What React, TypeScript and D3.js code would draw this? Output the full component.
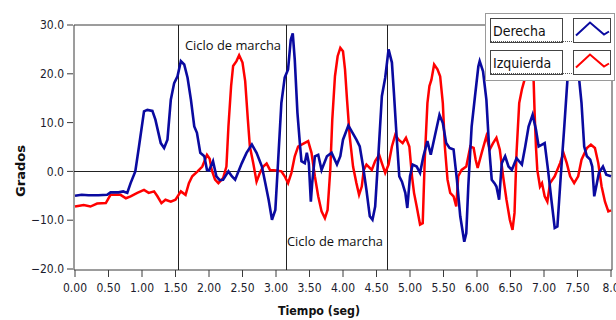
import React from "react";
import * as d3 from "d3";

// angle traces, [time (s), degrees]
const derecha: [number, number][] = [
  [0, -5.0], [0.1, -4.8], [0.2, -4.9], [0.35, -4.9], [0.48, -4.8], [0.53, -4.3], [0.65, -4.3], [0.72, -4.1],
  [0.78, -4.4], [0.83, -2.4], [0.9, 0], [0.955, 5.1], [1.03, 12.3], [1.08, 12.6], [1.155, 12.4], [1.2, 10.6],
  [1.28, 5.8], [1.33, 4.8], [1.38, 6.5], [1.43, 14.7], [1.48, 18.1], [1.53, 19.5], [1.58, 22.6], [1.63, 21.9],
  [1.68, 19.2], [1.73, 14.7], [1.78, 9.2], [1.82, 7.9], [1.87, 3.8], [1.93, 3.1], [1.97, 0.3], [2.0, 0.2],
  [2.06, 2.1], [2.11, -1.0], [2.16, -1.8], [2.21, -1.7], [2.29, 0], [2.34, -1.0], [2.39, -1.7], [2.49, 1.7],
  [2.56, 3.8], [2.64, 5.5], [2.71, 3.8], [2.79, 1.0], [2.84, -2.4], [2.89, -5.8], [2.94, -9.9], [2.99, -7.9],
  [3.03, 1.7], [3.08, 14.0], [3.13, 19.2], [3.18, 20.9], [3.22, 27.0], [3.25, 28.3], [3.28, 22.9], [3.32, 12.0],
  [3.36, 5.1], [3.38, 2.1], [3.43, 1.7], [3.46, 3.8], [3.49, 1.7], [3.52, -6.2], [3.54, -2.4], [3.58, 3.1],
  [3.63, 3.4], [3.68, 0.3], [3.76, 3.1], [3.83, 3.8], [3.91, 1.4], [3.96, 3.1], [4.0, 6.5], [4.08, 9.4],
  [4.13, 8.2], [4.2, 6.5], [4.25, 5.1], [4.3, 1.0], [4.35, -3.8], [4.4, -9.2], [4.44, -9.9], [4.48, -7.2],
  [4.53, 3.8], [4.58, 15.4], [4.63, 19.2], [4.68, 25.0], [4.73, 22.3], [4.76, 16.1], [4.8, 7.2], [4.84, -1.0],
  [4.88, -2.1], [4.93, -4.4], [4.96, -7.5], [5.0, -1.0], [5.04, 1.4], [5.1, 1.0], [5.15, -0.3], [5.2, 3.1],
  [5.26, 6.2], [5.31, 3.4], [5.37, 7.2], [5.44, 11.6], [5.49, 9.9], [5.54, 5.8], [5.59, 4.8], [5.65, 4.5],
  [5.7, -1.7], [5.75, -9.2], [5.81, -14.4], [5.84, -12.7], [5.87, -3.1], [5.92, 9.2], [5.97, 15.4], [6.02, 21.5],
  [6.04, 22.6], [6.09, 20.5], [6.14, 14.7], [6.18, 5.1], [6.22, -1.7], [6.26, -2.4], [6.29, -3.1], [6.33, -5.8],
  [6.37, 1.7], [6.42, 3.1], [6.47, 1.0], [6.52, 0.3], [6.59, 2.7], [6.67, 1.4], [6.72, 5.1], [6.77, 9.2],
  [6.83, 11.6], [6.88, 8.6], [6.92, 5.1], [6.97, 5.5], [7.01, 5.8], [7.06, 0.3], [7.11, -5.8], [7.16, -11.6],
  [7.2, -11.3], [7.25, -1.0], [7.3, 8.6], [7.35, 18.8], [7.4, 23.5], [7.44, 24.0], [7.48, 22.5], [7.51, 20.9],
  [7.56, 14.0], [7.6, 5.1], [7.64, 3.1], [7.69, 2.4], [7.72, 1.0], [7.75, -5.1], [7.79, -2.4], [7.82, -0.3],
  [7.88, 1.0], [7.93, -0.7], [8.0, -1.0],
];

const izquierda: [number, number][] = [
  [0, -7.2], [0.13, -6.9], [0.23, -7.2], [0.33, -6.6], [0.46, -6.5], [0.53, -4.8], [0.68, -4.8], [0.76, -5.5],
  [0.83, -5.1], [0.93, -4.4], [1.03, -3.8], [1.1, -4.4], [1.18, -4.1], [1.23, -5.1], [1.29, -6.5], [1.35, -5.8],
  [1.43, -6.2], [1.5, -5.8], [1.58, -4.1], [1.65, -4.8], [1.7, -2.4], [1.75, -1.0], [1.83, 0], [1.9, 1.0],
  [1.97, 3.4], [2.01, 2.6], [2.04, 0.3], [2.09, -1.7], [2.14, -2.4], [2.21, -1.4], [2.26, 1.0], [2.29, 9.2],
  [2.33, 17.5], [2.36, 21.6], [2.41, 22.6], [2.45, 23.8], [2.5, 22.3], [2.54, 18.5], [2.58, 10.6], [2.61, 5.1],
  [2.66, 1.7], [2.71, -2.1], [2.76, -0.3], [2.81, 1.0], [2.86, 1.6], [2.91, 0.3], [3.01, 0.2], [3.08, 0],
  [3.13, -1.0], [3.18, -2.4], [3.23, -0.3], [3.28, 3.1], [3.33, 5.1], [3.41, 5.7], [3.48, 6.2], [3.53, 3.8],
  [3.58, -1.0], [3.63, -5.1], [3.68, -8.2], [3.73, -9.6], [3.77, -7.9], [3.81, 0.3], [3.84, 10.6], [3.88, 19.5],
  [3.92, 23.6], [3.96, 25.3], [4.0, 24.6], [4.03, 20.9], [4.06, 14.7], [4.1, 7.2], [4.15, 1.0], [4.2, -2.4],
  [4.24, -4.8], [4.28, -3.1], [4.31, 0.3], [4.35, 1.4], [4.43, 0.3], [4.48, 2.1], [4.54, 3.4], [4.58, 1.7],
  [4.63, -0.3], [4.68, 1.4], [4.73, 5.1], [4.78, 7.5], [4.83, 6.5], [4.89, 5.8], [4.94, 6.9], [4.99, 5.1],
  [5.03, -1.0], [5.06, -4.4], [5.1, -7.2], [5.15, -10.9], [5.19, -10.6], [5.22, 2.4], [5.26, 14.0], [5.29, 17.5],
  [5.32, 18.8], [5.36, 21.9], [5.41, 20.9], [5.45, 19.5], [5.49, 14.0], [5.52, 5.1], [5.56, -1.7], [5.6, -4.4],
  [5.65, -5.1], [5.69, -7.2], [5.72, -1.0], [5.77, 0.3], [5.84, 1.0], [5.9, 5.1], [5.95, 4.8], [5.98, 2.4],
  [6.01, 0.7], [6.07, 3.8], [6.14, 7.2], [6.19, 4.5], [6.24, 5.8], [6.29, 6.9], [6.34, 4.5], [6.39, -1.0],
  [6.44, -5.8], [6.49, -9.9], [6.53, -12.0], [6.56, -8.5], [6.59, 3.8], [6.63, 14.0], [6.67, 16.8], [6.71, 18.8],
  [6.76, 22.0], [6.8, 23.0], [6.84, 21.0], [6.86, 12.0], [6.88, 5.0], [6.9, 0.3], [6.94, -3.1], [6.97, -2.4],
  [7.01, -5.1], [7.05, -6.2], [7.09, -2.4], [7.16, -1.0], [7.24, 1.7], [7.29, 3.8], [7.34, 1.7], [7.39, -1.0],
  [7.45, -2.4], [7.51, -1.0], [7.56, 2.4], [7.64, 4.8], [7.7, 5.5], [7.76, 4.8], [7.81, 1.7], [7.86, -3.1],
  [7.91, -6.2], [7.96, -8.2], [8.0, -8.0],
];

const xTicks = d3.range(0, 8.01, 0.5);
const yTicks = [30, 20, 10, 0, -10, -20];
const cursores = [1.53, 3.15, 4.65];
const leyenda = [
  { name: "Derecha", color: "#0a0aa0" },
  { name: "Izquierda", color: "#ff0000" },
];

const W = 616;
const H = 320;
const tickFont = "'DejaVu Sans Condensed', 'Liberation Sans Narrow', sans-serif";

const App = () => {
  const x = d3.scaleLinear().domain([0, 8]).range([75, 611]);
  const y = d3.scaleLinear().domain([-20, 30]).range([269, 25]);

  const line = d3.line<[number, number]>()
    .x(d => x(d[0]))
    .y(d => y(d[1]));

  const frame = "#3a3a3a";

  return (
    <svg width={W} height={H} style={{ position: "absolute", left: 0, top: 0, background: "#fff" }}>
      {/* plot frame */}
      <line x1={74} x2={612} y1={25} y2={25} stroke={frame} />
      <line x1={612} x2={612} y1={25} y2={270} stroke={frame} />
      <line x1={74} x2={74} y1={25} y2={270} stroke={frame} />
      <line x1={74} x2={612} y1={270} y2={270} stroke={frame} />

      {/* zero line and cycle cursors */}
      <line x1={74} x2={612} y1={Math.round(y(0)) + 0.5} y2={Math.round(y(0)) + 0.5} stroke="#222" />
      {cursores.map(c => (
        <line key={c} x1={Math.round(x(c)) + 0.5} x2={Math.round(x(c)) + 0.5} y1={25} y2={270} stroke="#222" />
      ))}

      {/* traces */}
      <path d={line(izquierda) || ""} fill="none" stroke="#ff0000" strokeWidth={2.5} strokeLinejoin="miter" />
      <path d={line(derecha) || ""} fill="none" stroke="#0a0aa0" strokeWidth={2.6} strokeLinejoin="miter" />

      {/* y axis */}
      {yTicks.map(t => (
        <g key={t}>
          <line x1={67} x2={73} y1={y(t)} y2={y(t)} stroke={frame} />
          <text x={64} y={y(t)} dy="0.35em" textAnchor="end" fontFamily={tickFont} fontSize={12} fill="#1c1c2c">
            {d3.format(".1f")(t)}
          </text>
        </g>
      ))}

      {/* x axis */}
      {xTicks.map(t => (
        <g key={t}>
          <line x1={x(t)} x2={x(t)} y1={270} y2={277} stroke={frame} />
          <text x={x(t)} y={292} textAnchor="middle" fontFamily={tickFont} fontSize={12} fill="#1c1c2c">
            {t === 8 ? "8.0" : d3.format(".2f")(t)}
          </text>
        </g>
      ))}

      <text transform="translate(25,171) rotate(-90)" textAnchor="middle" fontFamily={tickFont}
        fontWeight="bold" fontSize={13} textLength={52} lengthAdjust="spacingAndGlyphs" fill="#111">Grados</text>
      <text x={319} y={315} textAnchor="middle" fontFamily={tickFont} fontWeight="bold" fontSize={13}
        textLength={82} lengthAdjust="spacingAndGlyphs" fill="#111">Tiempo (seg)</text>

      {/* cycle annotations */}
      <text x={185} y={50} fontFamily="'Open Sans', sans-serif" fontSize={13.5} textLength={96}
        lengthAdjust="spacingAndGlyphs" fill="#111">Ciclo de marcha</text>
      <text x={287} y={246} fontFamily="'Open Sans', sans-serif" fontSize={13.5} textLength={96}
        lengthAdjust="spacingAndGlyphs" fill="#111">Ciclo de marcha</text>

      {/* legend */}
      <rect x={485.5} y={13.5} width={129} height={67} fill="#fff" stroke="#9a9a9a" />
      {leyenda.map((s, i) => {
        const top = 18.5 + i * 32;
        const h = 24;
        return (
          <g key={s.name}>
            <rect x={490.5} y={top} width={72} height={h} fill="#fff" stroke="#444" />
            <line x1={491} x2={572} y1={top + h - 1} y2={top + h - 1} stroke="#555" strokeDasharray="1,1" />
            <rect x={573.5} y={top} width={37} height={h} fill="#fff" stroke="#444" />
            <path
              d={`M${576},${top + 17} L${590},${top + 4} L${604},${top + 16} L${609},${top + 13}`}
              fill="none" stroke={s.color} strokeWidth={2}
            />
            <text x={493} y={top + 17} fontFamily={tickFont} fontSize={14} fill="#111">{s.name}</text>
          </g>
        );
      })}
    </svg>
  );
};

export default App;
